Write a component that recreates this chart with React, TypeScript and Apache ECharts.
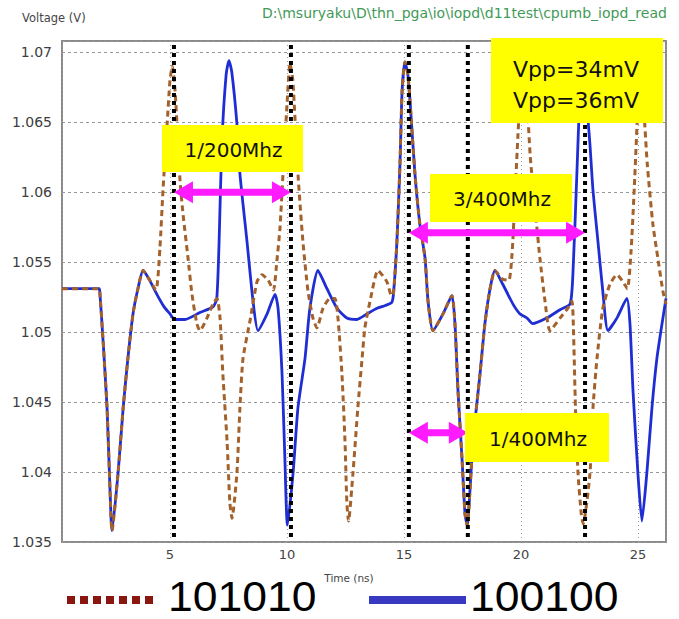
import React, { useEffect, useRef } from 'react';
import * as echarts from 'echarts';

// ---- data ----
const seriesNames = ['101010', '100100'];

// 100100 pattern (blue, solid)
const blueWave: [number, number][] = [
  [0.385, 1.0531], [1.97, 1.0531], [2.0, 1.0529], [2.14, 1.0494], [2.31, 1.0446], [2.44, 1.0386], [2.52, 1.0358],
  [2.78, 1.0399], [3.0, 1.0446], [3.2, 1.0481], [3.42, 1.0513], [3.63, 1.0531], [3.85, 1.0544], [4.1, 1.0538],
  [4.44, 1.0527], [4.75, 1.0518], [5.0, 1.0513], [5.2, 1.0509], [5.64, 1.0509], [6.28, 1.0514], [6.84, 1.0518],
  [7.0, 1.0524], [7.1, 1.0565], [7.22, 1.0636], [7.4, 1.0684], [7.52, 1.0694], [7.64, 1.0686], [7.86, 1.0649],
  [7.99, 1.0613], [8.29, 1.0565], [8.55, 1.0522], [8.76, 1.0501], [9.15, 1.0513], [9.49, 1.0527], [9.62, 1.0517],
  [9.79, 1.047], [9.91, 1.041], [10.02, 1.0362], [10.26, 1.0399], [10.47, 1.0446], [10.77, 1.0481], [10.98, 1.0517],
  [11.32, 1.0544], [11.71, 1.0531], [12.14, 1.0517], [12.56, 1.051], [12.99, 1.0509], [13.42, 1.0513], [13.85, 1.0517],
  [14.2, 1.0519], [14.47, 1.0521], [14.55, 1.0527], [14.7, 1.0565], [14.83, 1.062], [14.92, 1.0672], [15.04, 1.0693],
  [15.16, 1.0685], [15.26, 1.0665], [15.47, 1.0613], [15.68, 1.0577], [15.9, 1.0553], [16.03, 1.0522], [16.24, 1.0501],
  [16.67, 1.0513], [17.05, 1.0526], [17.18, 1.0506], [17.31, 1.0458], [17.48, 1.041], [17.61, 1.037], [17.7, 1.0362],
  [17.95, 1.0422], [18.25, 1.047], [18.46, 1.0506], [18.68, 1.0531], [18.89, 1.0544], [19.23, 1.0534], [19.66, 1.052],
  [19.96, 1.0513], [20.26, 1.051], [20.5, 1.0506], [21.1, 1.051], [21.67, 1.0516], [22.1, 1.052], [22.22, 1.0541],
  [22.39, 1.0613], [22.52, 1.067], [22.65, 1.0695], [22.78, 1.067], [22.95, 1.0634], [23.08, 1.0601], [23.29, 1.0565],
  [23.5, 1.0529], [23.72, 1.0501], [24.1, 1.051], [24.53, 1.0524], [24.66, 1.0506], [24.79, 1.0458], [25.0, 1.0399],
  [25.17, 1.0365], [25.38, 1.0399], [25.6, 1.0446], [25.81, 1.0481], [26.03, 1.0506], [26.2, 1.0524],
];

// 101010 pattern (brown, dashed)
const brownWave: [number, number][] = [
  [0.385, 1.0531], [1.97, 1.0531], [2.0, 1.0529], [2.14, 1.0494], [2.31, 1.0446], [2.44, 1.0386], [2.52, 1.0358],
  [2.78, 1.0399], [3.0, 1.0446], [3.2, 1.0481], [3.42, 1.0513], [3.63, 1.0531], [3.85, 1.0544], [4.1, 1.0538],
  [4.4, 1.053], [4.57, 1.056], [4.7, 1.0601], [4.87, 1.0646], [5.0, 1.068], [5.1, 1.069], [5.22, 1.0672],
  [5.43, 1.0608], [5.56, 1.0584], [5.77, 1.0553], [5.94, 1.0527], [6.15, 1.0506], [6.28, 1.0501], [6.58, 1.051],
  [6.84, 1.052], [7.01, 1.0524], [7.14, 1.051], [7.26, 1.047], [7.44, 1.0422], [7.56, 1.0378], [7.65, 1.0367],
  [7.86, 1.0399], [7.99, 1.0446], [8.12, 1.0481], [8.42, 1.0508], [8.72, 1.0536], [8.93, 1.0541], [9.2, 1.0537],
  [9.42, 1.053], [9.57, 1.0551], [9.7, 1.0574], [9.83, 1.0613], [10.0, 1.0662], [10.13, 1.0692], [10.25, 1.068],
  [10.47, 1.0613], [10.68, 1.0565], [10.9, 1.0529], [11.11, 1.051], [11.28, 1.0503], [11.54, 1.0517], [11.84, 1.0524],
  [12.05, 1.0524], [12.18, 1.051], [12.35, 1.047], [12.48, 1.0422], [12.56, 1.0378], [12.63, 1.0365], [12.82, 1.0399],
  [13.03, 1.0446], [13.21, 1.0481], [13.33, 1.0503], [13.55, 1.0522], [13.89, 1.0544], [14.27, 1.0536], [14.47, 1.0526],
  [14.55, 1.0527], [14.7, 1.0565], [14.83, 1.062], [14.92, 1.0672], [15.04, 1.0693], [15.16, 1.0685], [15.26, 1.0665],
  [15.47, 1.0613], [15.68, 1.0577], [15.9, 1.0553], [16.03, 1.0522], [16.24, 1.0501], [16.67, 1.0513], [17.05, 1.0526],
  [17.18, 1.0506], [17.31, 1.0458], [17.48, 1.041], [17.61, 1.037], [17.7, 1.0362], [17.95, 1.0422], [18.25, 1.047],
  [18.46, 1.0506], [18.68, 1.0531], [18.89, 1.0544], [19.2, 1.0538], [19.48, 1.0537], [19.62, 1.0556], [19.74, 1.0595],
  [19.87, 1.064], [20.0, 1.0678], [20.12, 1.0692], [20.24, 1.0672], [20.4, 1.0625], [20.6, 1.0589], [20.81, 1.0553],
  [21.03, 1.0522], [21.24, 1.0501], [21.67, 1.051], [22.0, 1.0517], [22.18, 1.0522], [22.24, 1.0505], [22.33, 1.0446],
  [22.44, 1.0399], [22.58, 1.037], [22.66, 1.0363], [22.95, 1.0399], [23.08, 1.0446], [23.25, 1.0481], [23.5, 1.0517],
  [23.8, 1.0534], [24.1, 1.0541], [24.36, 1.0536], [24.55, 1.0531], [24.7, 1.0556], [24.85, 1.0605], [24.98, 1.0655],
  [25.1, 1.0692], [25.22, 1.0668], [25.4, 1.062], [25.64, 1.0577], [25.85, 1.0553], [26.07, 1.0529], [26.2, 1.052],
];

// vertical black dotted markers (ns)
const markerTimes = [5.17, 10.17, 15.21, 17.73, 22.74];

// double-headed magenta arrows: from / to (ns) and level (V)
const arrowFrom = [5.17, 15.21, 15.21];
const arrowTo = [10.17, 22.74, 17.73];
const arrowLevel = [1.06, 1.0571, 1.0428];
const arrowLabels = ['1/200Mhz', '3/400Mhz', '1/400Mhz'];
const vppLabels = ['Vpp=34mV', 'Vpp=36mV'];

// axis ranges
const X_MIN = 0.385;
const X_MAX = 26.2;
const Y_MIN = 1.035;
const Y_MAX = 1.0708;
const Y_STEP = 0.005;
const X_STEP = 5;

// ---- layout (pixels) ----
const labelBoxes = [
  { x: 162, y: 125, w: 141, h: 47 },
  { x: 430, y: 174, w: 142, h: 48 },
  { x: 465, y: 413, w: 144, h: 49 },
];
const vppBox = { x: 491, y: 38, w: 172, h: 85 };

const YELLOW = '#ffff00';
const BLUE = '#1f2ed4';
const BROWN = '#a3612c';

function buildOption() {
  const graphics: any[] = [];
  // title texts
  graphics.push({
    type: 'text', left: 22, top: 12, z: 100,
    style: { text: 'Voltage (V)', fill: '#444', font: '11.5px "DejaVu Sans"' },
  });
  graphics.push({
    type: 'text', left: 262, top: 6, z: 100,
    style: { text: 'D:\\msuryaku\\D\\thn_pga\\io\\iopd\\d11test\\cpumb_iopd_read', fill: '#3f9a58', font: '14px "DejaVu Sans"' },
  });
  graphics.push({
    type: 'text', z: 100, x: 349, y: 578,
    style: { text: 'Time (ns)', fill: '#444', font: '10.5px "DejaVu Sans"', align: 'center', verticalAlign: 'middle', textAlign: 'center', textVerticalAlign: 'middle' },
  });
  // annotation boxes
  labelBoxes.forEach((b, i) => {
    graphics.push({ type: 'rect', z: 100, shape: { x: b.x, y: b.y, width: b.w, height: b.h }, style: { fill: YELLOW } });
    graphics.push({
      type: 'text', z: 101, x: b.x + b.w / 2 + 1, y: b.y + b.h / 2 + 1,
      style: { text: arrowLabels[i], fill: '#111', font: '20px "DejaVu Sans"', align: 'center', verticalAlign: 'middle', textAlign: 'center', textVerticalAlign: 'middle' },
    });
  });
  graphics.push({ type: 'rect', z: 100, shape: { x: vppBox.x, y: vppBox.y, width: vppBox.w, height: vppBox.h }, style: { fill: YELLOW } });
  vppLabels.forEach((t, i) => {
    graphics.push({
      type: 'text', z: 101, x: vppBox.x + vppBox.w / 2 - 1, y: 69 + i * 31,
      style: { text: t, fill: '#111', font: '22px "DejaVu Sans"', align: 'center', verticalAlign: 'middle', textAlign: 'center', textVerticalAlign: 'middle' },
    });
  });
  // legend
  graphics.push({
    type: 'line', z: 100, shape: { x1: 67, y1: 600, x2: 155, y2: 600 },
    style: { stroke: '#8a1610', lineWidth: 8, lineDash: [8, 5] },
  });
  graphics.push({
    type: 'text', z: 100, x: 168, y: 596, scaleX: 1.06, originX: 0, originY: 0,
    style: { text: seriesNames[0], fill: '#000', font: '42px "Liberation Sans"', align: 'left', verticalAlign: 'middle', textAlign: 'left', textVerticalAlign: 'middle' },
  });
  graphics.push({
    type: 'line', z: 100, shape: { x1: 369, y1: 600, x2: 466, y2: 600 },
    style: { stroke: '#3838c2', lineWidth: 8 },
  });
  graphics.push({
    type: 'text', z: 100, x: 470, y: 596, scaleX: 1.06, originX: 0, originY: 0,
    style: { text: seriesNames[1], fill: '#000', font: '42px "Liberation Sans"', align: 'left', verticalAlign: 'middle', textAlign: 'left', textVerticalAlign: 'middle' },
  });

  const isMultiple = (v: number, step: number) => Math.abs(v / step - Math.round(v / step)) < 1e-6;

  return {
    animation: false,
    backgroundColor: '#ffffff',
    grid: {
      left: 62, right: 13, top: 41, bottom: 77,
      show: true, borderColor: '#8a8a8a', borderWidth: 2, backgroundColor: '#fff',
      containLabel: false, outerBoundsMode: 'none',
    },
    xAxis: {
      type: 'value', min: X_MIN, max: X_MAX, minInterval: X_STEP, maxInterval: X_STEP,
      axisLine: { show: false }, axisTick: { show: false },
      axisLabel: {
        margin: 6, color: '#444', fontSize: 13, fontFamily: 'DejaVu Sans',
        formatter: (v: number) => (isMultiple(v, X_STEP) && v > 0 ? String(Math.round(v)) : ''),
      },
      splitLine: { show: true, lineStyle: { color: '#9c9c9c', width: 1, type: [1, 3] } },
    },
    yAxis: {
      type: 'value', min: Y_MIN, max: Y_MAX, minInterval: Y_STEP, maxInterval: Y_STEP,
      axisLine: { show: false }, axisTick: { show: false },
      axisLabel: {
        margin: 10, color: '#3d3d3d', fontSize: 14, fontFamily: 'DejaVu Sans',
        formatter: (v: number) => (isMultiple(v, Y_STEP) ? String(+v.toFixed(3)) : ''),
      },
      splitLine: { show: true, lineStyle: { color: '#999', width: 1, type: [3, 3] } },
    },
    series: [
      {
        name: seriesNames[1], type: 'line', data: blueWave, showSymbol: false, symbol: 'none',
        smooth: 0.2, z: 2, silent: true,
        lineStyle: { color: BLUE, width: 2.8, type: 'solid' },
      },
      {
        name: seriesNames[0], type: 'line', data: brownWave, showSymbol: false, symbol: 'none',
        smooth: 0.2, z: 3, silent: true,
        lineStyle: { color: BROWN, width: 3, type: [6, 4] },
      },
      {
        type: 'custom', z: 4, silent: true,
        data: markerTimes.map((t) => [t, Y_MIN]),
        encode: { x: 0, y: 1 },
        renderItem: (params: any, api: any) => {
          const p = api.coord([api.value(0), api.value(1)]);
          const cs = params.coordSys;
          return {
            type: 'line',
            shape: { x1: p[0], y1: cs.y + 4, x2: p[0], y2: cs.y + cs.height - 2 },
            style: { stroke: '#000', lineWidth: 4, lineDash: [4, 4] },
          };
        },
      },
      {
        type: 'custom', z: 5, silent: true,
        data: arrowFrom.map((t, i) => [t, arrowTo[i], arrowLevel[i]]),
        encode: { x: [0, 1], y: 2 },
        renderItem: (params: any, api: any) => {
          const lv = api.value(2);
          const a = api.coord([api.value(0), lv]);
          const b = api.coord([api.value(1), lv]);
          const L = 19, H = 11, S = 3.5;
          const cy = a[1];
          const pts = [
            [a[0], cy], [a[0] + L, cy - H], [a[0] + L, cy - S], [b[0] - L, cy - S], [b[0] - L, cy - H],
            [b[0], cy], [b[0] - L, cy + H], [b[0] - L, cy + S], [a[0] + L, cy + S], [a[0] + L, cy + H],
          ];
          return { type: 'polygon', shape: { points: pts }, style: { fill: '#ff1aff' } };
        },
      },
    ],
    graphic: { elements: graphics },
  };
}

export default function App() {
  const ref = useRef<HTMLDivElement>(null);
  useEffect(() => {
    if (!ref.current) return;
    const chart = echarts.init(ref.current, null, { renderer: 'svg' });
    chart.setOption(buildOption() as any);
    return () => chart.dispose();
  }, []);
  return (
    <div
      ref={ref}
      style={{ position: 'fixed', left: 0, top: 0, width: 679, height: 619, background: '#fff' }}
    />
  );
}
